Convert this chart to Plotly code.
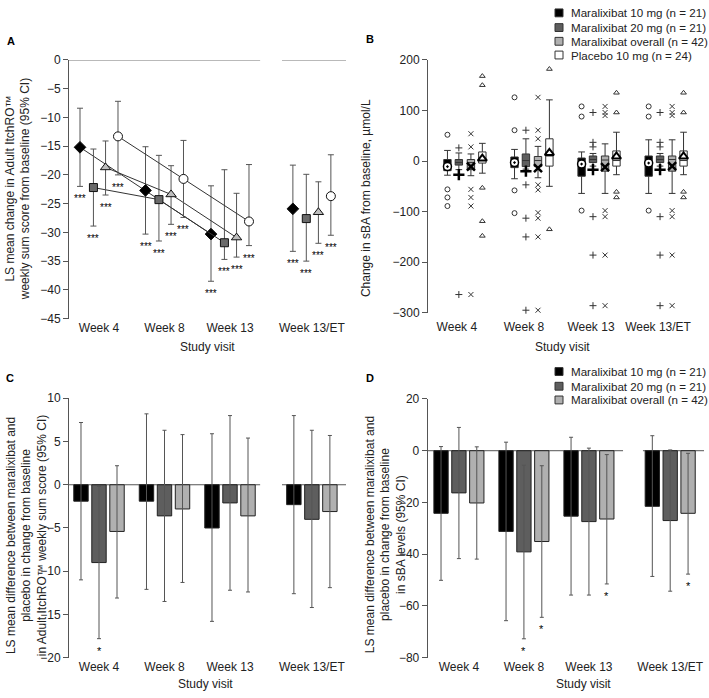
import plotly.graph_objects as go

# ---------------- data ----------------
visits = ["Week 4", "Week 8", "Week 13", "Week 13/ET"]
series = ["Maralixibat 10 mg (n = 21)", "Maralixibat 20 mg (n = 21)",
          "Maralixibat overall (n = 42)", "Placebo 10 mg (n = 24)"]

# Panel A: LS mean change in Adult ItchRO weekly sum score (95% CI)
a_mean_10 = [-15.2, -22.7, -30.3, -25.9]
a_lo_10 = [-22.0, -30.3, -38.5, -33.3]
a_hi_10 = [-8.4, -15.1, -21.9, -18.3]
a_mean_20 = [-22.2, -24.3, -31.8, -27.6]
a_lo_20 = [-28.9, -31.5, -34.7, -35.0]
a_hi_20 = [-15.5, -16.6, -19.1, -19.9]
a_mean_all = [-18.7, -23.4, -30.9, -26.5]
a_lo_all = [-23.5, -28.6, -34.3, -31.9]
a_hi_all = [-14.1, -18.4, -23.2, -21.2]
a_mean_pbo = [-13.3, -20.7, -28.1, -23.7]
a_lo_pbo = [-20.0, -27.4, -32.3, -30.5]
a_hi_pbo = [-7.2, -14.0, -18.2, -16.5]
a_sig = ["***", "***", "***", "***"]

# Panel B: change in sBA from baseline (box plots)
b_q1_10 = [-19, -13, -30, -30]
b_med_10 = [-8, -3, -6, -5]
b_q3_10 = [3, 8, 6, 10]
b_lf_10 = [-28, -35, -64, -64]
b_uf_10 = [21, 23, 18, 42]
b_mean_10 = [-11, -3, -6, -4]
b_out_10 = [[52, -56, -72, -89], [126, 61, -58, -103], [108, 88, -98], [108, 88, -98]]

b_q1_20 = [-8, -11, -3, -3]
b_med_20 = [-3, 1, 3, 3]
b_q3_20 = [3, 14, 10, 10]
b_lf_20 = [-17, -16, -10, -10]
b_uf_20 = [16, 44, 15, 15]
b_mean_20 = [-27, -20, -17, -17]
b_out_20 = [[26, -264], [61, -47, -113, -150, -295],
            [96, 37, 28, -110, -186, -286], [96, 37, 28, -110, -186, -286]]

b_q1_all = [-17, -11, -20, -20]
b_med_all = [-3, 1, 2, 3]
b_q3_all = [3, 9, 10, 10]
b_lf_all = [-29, -33, -64, -64]
b_uf_all = [14, 29, 34, 42]
b_mean_all = [-11, -14, -12, -10]
b_out_all = [[54, 28, -56, -72, -89, -264],
             [126, 61, 44, -47, -57, -102, -113, -150, -295],
             [108, 96, 90, -98, -110, -186, -286],
             [108, 96, 90, -98, -110, -186, -286]]

b_q1_pbo = [-4, -10, -10, -10]
b_med_pbo = [2, 10, 1, 1]
b_q3_pbo = [18, 44, 20, 20]
b_lf_pbo = [-24, -50, -27, -27]
b_uf_pbo = [35, 121, 57, 57]
b_mean_pbo = [5, 16, 9, 9]
b_out_pbo = [[168, 150, -53, -119, -148], [182, -135], [135, 96, -61, -72], [135, 96, -61, -72]]

# Panel C: LS mean difference vs placebo, ItchRO
c_10 = [-1.9, -1.9, -5.0, -2.3]
c_lo_10 = [-11.0, -12.1, -15.8, -12.6]
c_hi_10 = [7.2, 8.2, 5.9, 8.0]
c_20 = [-9.0, -3.6, -2.1, -4.0]
c_lo_20 = [-17.8, -13.5, -12.2, -14.2]
c_hi_20 = [-0.2, 6.3, 8.0, 6.3]
c_all = [-5.4, -2.8, -3.6, -3.1]
c_lo_all = [-13.1, -11.3, -12.4, -11.9]
c_hi_all = [2.2, 5.8, 5.4, 5.7]
c_sig_10 = ["", "", "", ""]
c_sig_20 = ["*", "", "", ""]
c_sig_all = ["", "", "", ""]

# Panel D: LS mean difference vs placebo, sBA
d_10 = [-24.2, -31.2, -25.3, -21.5]
d_lo_10 = [-50.1, -65.7, -55.8, -48.6]
d_hi_10 = [1.6, 3.3, 5.2, 5.8]
d_20 = [-16.3, -39.1, -27.4, -27.0]
d_lo_20 = [-41.7, -72.7, -55.8, -54.3]
d_hi_20 = [9.0, -5.6, 1.0, 0.3]
d_all = [-20.2, -35.1, -26.4, -24.2]
d_lo_all = [-41.9, -64.4, -51.5, -47.7]
d_hi_all = [1.5, -5.8, -1.5, -1.0]
d_sig_10 = ["", "", "", ""]
d_sig_20 = ["", "*", "", ""]
d_sig_all = ["", "*", "*", "*"]

# ---------------- styling / layout helpers ----------------
W, H = 709, 698
FONT = "Liberation Sans, Arial, sans-serif"
TXT = "#222222"
AX = "#555555"
EB = "#555555"
fills = ["#000000", "#5e5e5e", "#b0b0b0", "#ffffff"]
edge = "#222222"


def fx(p):
    return p / W


def fy(p):
    return 1 - p / H


grp = [0, 1, 2, 3.25]          # visit positions for panels A, C, D
grp_b = [0, 1, 2, 3]           # visit positions for panel B
off_a = [-0.29, -0.085, 0.1, 0.29]
off_b = [-0.26, -0.09, 0.09, 0.26]
off_bar = [-0.275, 0.0, 0.275]

fig = go.Figure()
ann = []


def add_sig(xs, ys, texts, xa, ya, size, shift):
    for x, y, t in zip(xs, ys, texts):
        if t:
            ann.append(dict(text=t, x=x, y=y, xref=xa, yref=ya, showarrow=False,
                            xanchor="center", yanchor="top", yshift=shift,
                            font=dict(size=size, color="#000000", family=FONT)))


# ---------------- Panel A ----------------
a_means = [a_mean_10, a_mean_20, a_mean_all, a_mean_pbo]
a_los = [a_lo_10, a_lo_20, a_lo_all, a_lo_pbo]
a_his = [a_hi_10, a_hi_20, a_hi_all, a_hi_pbo]
a_sym = ["diamond", "square", "triangle-up", "circle"]
a_size = [9, 8, 9, 9]
a_fill = ["#000000", "#6a6a6a", "#bdbdbd", "#ffffff"]
for i in range(4):
    xs = [g + off_a[i] for g in grp]
    m, lo, hi = a_means[i], a_los[i], a_his[i]
    ep = [h - v for h, v in zip(hi, m)]
    em = [v - l for v, l in zip(m, lo)]
    for sl, mode in [(slice(0, 3), "lines+markers"), (slice(3, 4), "markers")]:
        fig.add_trace(go.Scatter(
            x=xs[sl], y=m[sl], mode=mode, xaxis="x", yaxis="y",
            line=dict(color="#333333", width=1),
            marker=dict(symbol=a_sym[i], size=a_size[i], color=a_fill[i],
                        line=dict(color="#111111", width=1)),
            error_y=dict(type="data", symmetric=False, array=ep[sl], arrayminus=em[sl],
                         color=EB, thickness=1, width=3),
            showlegend=False, hoverinfo="skip", cliponaxis=False))
    add_sig(xs, lo, a_sig, "x", "y", 10, -5)

# ---------------- Panel B ----------------
b_q1 = [b_q1_10, b_q1_20, b_q1_all, b_q1_pbo]
b_med = [b_med_10, b_med_20, b_med_all, b_med_pbo]
b_q3 = [b_q3_10, b_q3_20, b_q3_all, b_q3_pbo]
b_lf = [b_lf_10, b_lf_20, b_lf_all, b_lf_pbo]
b_uf = [b_uf_10, b_uf_20, b_uf_all, b_uf_pbo]
b_mean = [b_mean_10, b_mean_20, b_mean_all, b_mean_pbo]
b_out = [b_out_10, b_out_20, b_out_all, b_out_pbo]
mean_sym = ["circle-dot", "cross-thin", "x-thin", "triangle-up"]
mean_col = ["#ffffff", "#000000", "#000000", "#ffffff"]
mean_lw = [1.5, 2.5, 2.5, 2]
out_sym = ["circle-open", "cross-thin-open", "x-thin-open", "triangle-up-open"]
for i in range(4):
    xs = [g + off_b[i] for g in grp_b]
    fig.add_trace(go.Box(
        x=xs, q1=b_q1[i], median=b_med[i], q3=b_q3[i],
        lowerfence=b_lf[i], upperfence=b_uf[i], boxpoints=False,
        width=0.11, whiskerwidth=0.9, fillcolor=fills[i],
        line=dict(color="#333333", width=1), xaxis="x2", yaxis="y2",
        showlegend=False, hoverinfo="skip"))
    fig.add_trace(go.Scatter(
        x=xs, y=b_mean[i], mode="markers", xaxis="x2", yaxis="y2",
        marker=dict(symbol=mean_sym[i], size=8, color=mean_col[i],
                    line=dict(color="#000000", width=mean_lw[i])),
        showlegend=False, hoverinfo="skip", cliponaxis=False))
    ox, oy = [], []
    for g, vals in zip(xs, b_out[i]):
        for v in vals:
            ox.append(g)
            oy.append(v)
    fig.add_trace(go.Scatter(
        x=ox, y=oy, mode="markers", xaxis="x2", yaxis="y2",
        marker=dict(symbol=out_sym[i], size=5, color="#333333",
                    line=dict(color="#333333", width=1)),
        showlegend=False, hoverinfo="skip", cliponaxis=False))


# ---------------- Panels C and D ----------------
def add_bars(vals_list, lo_list, hi_list, sig_list, xa, ya):
    for i in range(3):
        xs = [g + off_bar[i] for g in grp]
        v, lo, hi = vals_list[i], lo_list[i], hi_list[i]
        fig.add_trace(go.Bar(
            x=xs, y=v, width=0.22, xaxis=xa, yaxis=ya,
            marker=dict(color=fills[i], line=dict(color=edge, width=1)),
            error_y=dict(type="data", symmetric=False,
                         array=[h - a for h, a in zip(hi, v)],
                         arrayminus=[a - l for a, l in zip(v, lo)],
                         color=EB, thickness=1, width=2),
            showlegend=False, hoverinfo="skip"))
        add_sig(xs, lo, sig_list[i], xa, ya, 11, -4)


add_bars([c_10, c_20, c_all], [c_lo_10, c_lo_20, c_lo_all], [c_hi_10, c_hi_20, c_hi_all],
         [c_sig_10, c_sig_20, c_sig_all], "x3", "y3")
add_bars([d_10, d_20, d_all], [d_lo_10, d_lo_20, d_lo_all], [d_hi_10, d_hi_20, d_hi_all],
         [d_sig_10, d_sig_20, d_sig_all], "x4", "y4")

# ---------------- axes ----------------
tickfont = dict(size=12, color=TXT, family=FONT)


def yax(dom, rng, dtick, anchor):
    return dict(domain=dom, range=rng, dtick=dtick, showline=True, linecolor=AX,
                linewidth=1, ticks="outside", ticklen=5, tickcolor=AX, tickwidth=1,
                showgrid=False, zeroline=False, tickfont=tickfont, fixedrange=True,
                anchor=anchor)


def xax(dom, rng, tv, anchor, tl=0):
    return dict(domain=dom, range=rng, tickvals=tv, ticktext=visits, showline=False,
                showgrid=False, zeroline=False, ticks="outside" if tl else "",
                ticklen=tl, tickcolor="rgba(0,0,0,0)", tickfont=tickfont,
                anchor=anchor, fixedrange=True)


fig.update_layout(
    width=W, height=H, margin=dict(l=0, r=0, t=0, b=0),
    paper_bgcolor="white", plot_bgcolor="white", barmode="overlay",
    font=dict(family=FONT, color=TXT, size=12),
    xaxis=xax([fx(69), fx(346)], [-0.458, 3.771], grp, "y"),
    yaxis=yax([fy(318), fy(54)], [-45, 0], 5, "x"),
    xaxis2=xax([fx(428), fx(705)], [-0.55, 3.58], [g - 0.12 for g in grp_b], "y2", tl=3),
    yaxis2=yax([fy(312), fy(54)], [-300, 200], 100, "x2"),
    xaxis3=xax([fx(69), fx(346)], [-0.458, 3.771], grp, "y3"),
    yaxis3=yax([fy(664), fy(399.3)], [-20, 10], 5, "x3"),
    xaxis4=xax([fx(427.7), fx(704)], [-0.48, 3.77], grp, "y4"),
    yaxis4=yax([fy(664), fy(400)], [-80, 20], 20, "x4"),
)

# broken zero lines
shapes = []
for xr, yr, segs in [("x", "y", [(0, 0.69), (0.769, 1)]),
                     ("x3", "y3", [(0, 0.69), (0.769, 1)]),
                     ("x4", "y4", [(0, 0.707), (0.779, 1)])]:
    for a, b in segs:
        shapes.append(dict(type="line", xref=f"{xr} domain", yref=yr, x0=a, x1=b,
                           y0=0, y1=0, line=dict(color=AX, width=1), layer="below"))

# manual legends
for rows, top_rows in [(series, [6, 21, 35, 49]), (series[:3], [372, 387, 401])]:
    for i, (name, yc) in enumerate(zip(rows, top_rows)):
        shapes.append(dict(type="rect", xref="paper", yref="paper",
                           x0=fx(555), x1=fx(563), y0=fy(yc + 4), y1=fy(yc - 4),
                           fillcolor=fills[i], line=dict(color="#333333", width=1)))
        ann.append(dict(text=name, xref="paper", yref="paper", x=fx(569), y=fy(yc),
                        xanchor="left", yanchor="middle", showarrow=False,
                        font=dict(size=11.6, color=TXT, family=FONT)))

# panel letters
for lab, x, y in [("A", 5, 35), ("B", 364, 33), ("C", 4, 379), ("D", 364, 379)]:
    ann.append(dict(text=f"<b>{lab}</b>", xref="paper", yref="paper", x=fx(x), y=fy(y),
                    xanchor="left", yanchor="middle", showarrow=False,
                    font=dict(size=11, color="#000000", family=FONT)))

# axis titles
for x, y in [(207, 347), (562, 347), (205, 691), (583, 691)]:
    ann.append(dict(text="Study visit", xref="paper", yref="paper", x=fx(x), y=fy(y),
                    xanchor="center", yanchor="middle", showarrow=False,
                    font=dict(size=12, color=TXT, family=FONT)))

ytitles = [
    ("LS mean change in Adult ItchRO™<br>weekly sum score from baseline (95% CI)", 18, 186),
    ("Change in sBA from baseline, µmol/L", 366, 195),
    ("LS mean difference between maralixibat and<br>placebo in change from baseline<br>"
     "in Adult ItchRO™ weekly sum score (95% CI)", 26, 540),
    ("LS mean difference between maralixibat and<br>placebo in change from baseline<br>"
     "in sBA levels (95% CI)", 385, 539),
]
for t, x, y in ytitles:
    ann.append(dict(text=t, xref="paper", yref="paper", x=fx(x), y=fy(y),
                    xanchor="center", yanchor="middle", textangle=-90, showarrow=False,
                    font=dict(size=12, color=TXT, family=FONT)))

fig.update_layout(shapes=shapes, annotations=ann)

fig.write_html("out.html", config={"displayModeBar": False, "staticPlot": True},
               post_script="document.body.style.margin='0';document.body.style.padding='0';"
                           "document.body.style.overflow='hidden';")
